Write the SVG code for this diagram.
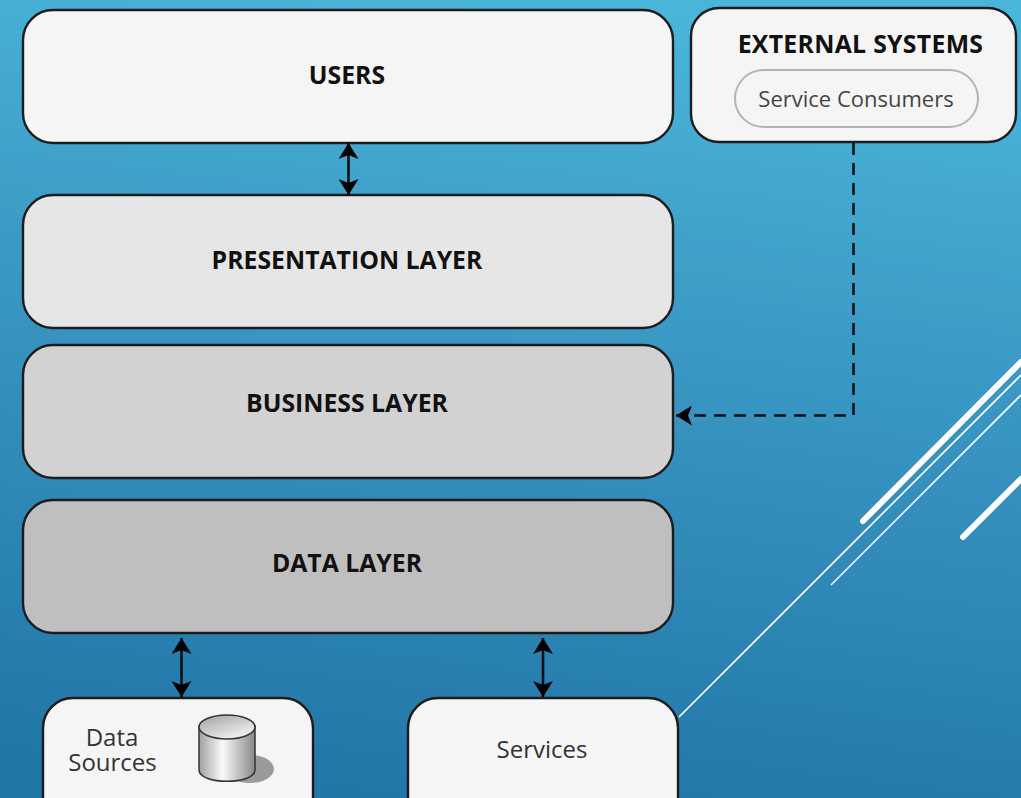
<svg xmlns="http://www.w3.org/2000/svg" width="1021" height="798" viewBox="0 0 1021 798">
<style>
.n{stroke:#1c1c1c;stroke-width:2.400}
.h{font:700 24.800px "Open Sans","Noto Sans",sans-serif;fill:#111;text-anchor:middle}
.e{letter-spacing:.3px}
.t{font:400 24px "Open Sans","Noto Sans",sans-serif;fill:#333;text-anchor:middle}
.s{font:400 22px "Open Sans","Noto Sans",sans-serif;fill:#444;text-anchor:middle}
.c{fill:none;stroke:#0d0d0d;stroke-width:2.600}
.d{fill:none;stroke:#111;stroke-width:2.600;stroke-dasharray:12 8}
.w{stroke:#fff;fill:none}
</style>
<defs>
<linearGradient id="bg" gradientUnits="userSpaceOnUse" x1="560" y1="0" x2="460" y2="798">
<stop offset="0" stop-color="#4ab5da"/><stop offset=".5" stop-color="#3792bf"/><stop offset="1" stop-color="#2177a8"/>
</linearGradient>
<linearGradient id="cyl" x1="0" x2="1" y1="0" y2="0">
<stop offset="0" stop-color="#a0a0a0"/><stop offset=".42" stop-color="#fafafa"/><stop offset="1" stop-color="#888"/>
</linearGradient>
<linearGradient id="top" x1="0" x2=".7" y1="0" y2="1">
<stop offset="0" stop-color="#a0a0a0"/><stop offset="1" stop-color="#f4f4f4"/>
</linearGradient>
<marker id="a" markerUnits="userSpaceOnUse" markerWidth="22" markerHeight="20" refX="17" refY="10" orient="auto-start-reverse">
<path d="M17 10L1 0L5 10L1 20Z" fill="#000"/>
</marker>
</defs>
<rect width="1021" height="798" fill="url(#bg)"/>
<g id="deco">
<path class="w" stroke-width="6" stroke-linecap="round" d="M863 521L1021 362M963 537L1021 479"/>
<path class="w" stroke-width="1.600" d="M679 717L1021 375M831 585L1021 395"/>
</g>
<g id="users"><rect class="n" x="23" y="10" width="650" height="133" rx="30" fill="#f5f5f5"/><text class="h" x="347" y="84">USERS</text></g>
<g id="external-systems"><rect class="n" x="691" y="8" width="325" height="134" rx="28" fill="#f5f5f5"/><text class="h e" x="860.500" y="53">EXTERNAL SYSTEMS</text>
<rect x="735" y="70" width="243" height="57" rx="28.500" fill="#f5f5f5" stroke="#b4b4b4" stroke-width="2"/><text class="s" x="856" y="106.500">Service Consumers</text></g>
<g id="presentation-layer"><rect class="n" x="23" y="195" width="650" height="133" rx="30" fill="#e6e6e6"/><text class="h" x="347" y="269">PRESENTATION LAYER</text></g>
<g id="business-layer"><rect class="n" x="23" y="345" width="650" height="133" rx="30" fill="#d2d2d2"/><text class="h" x="347" y="412">BUSINESS LAYER</text></g>
<g id="data-layer"><rect class="n" x="23" y="500" width="650" height="133" rx="30" fill="#bfbfbf"/><text class="h" x="347" y="572">DATA LAYER</text></g>
<g id="data-sources"><rect class="n" x="43" y="698" width="270" height="134" rx="30" fill="#f5f5f5"/>
<text class="t" x="112" y="746">Data</text><text class="t" x="112.500" y="771">Sources</text>
<ellipse cx="250" cy="769" rx="24" ry="14" fill="#9a9a9a"/>
<path d="M199 726V770C199 785 255 785 255 770V726Z" fill="url(#cyl)" stroke="#333" stroke-width="1.500"/>
<ellipse cx="227" cy="727" rx="28" ry="12" fill="url(#top)" stroke="#333" stroke-width="1.500"/></g>
<g id="services"><rect class="n" x="408" y="698" width="270" height="134" rx="30" fill="#f5f5f5"/><text class="t" x="542" y="758">Services</text></g>
<g id="connectors">
<path class="c" marker-start="url(#a)" marker-end="url(#a)" d="M348.500 143V195"/>
<path class="c" marker-start="url(#a)" marker-end="url(#a)" d="M181.500 638V697"/>
<path class="c" marker-start="url(#a)" marker-end="url(#a)" d="M543 638V697"/>
<path class="d" marker-end="url(#a)" d="M853.500 143V415.500H676"/>
</g>
</svg>
